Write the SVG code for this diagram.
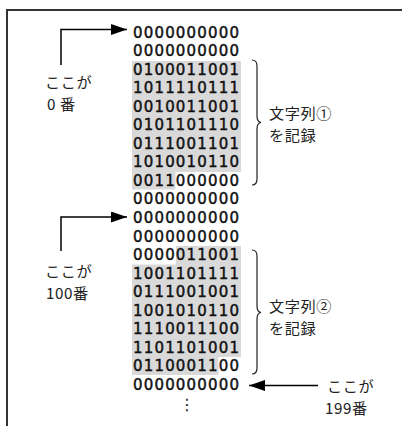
<svg xmlns="http://www.w3.org/2000/svg" width="402" height="426" viewBox="0 0 402 426">
<defs>
<marker id="ah" markerWidth="16" markerHeight="11" refX="16" refY="5.5" orient="auto" markerUnits="userSpaceOnUse">
<path d="M0,0 L16,5.5 L0,11 Z" fill="#000"/>
</marker>
<style>
.bin{font-family:"DejaVu Sans",sans-serif;font-size:15px;fill:#111;stroke:#111;stroke-width:0.45px}
.lbl{font-family:"Noto Sans CJK JP","Noto Sans",sans-serif;font-size:15.2px;fill:#222;letter-spacing:0.6px}
.shade{fill:#d9d9d9}
.conn{fill:none;stroke:#000;stroke-width:1.5}
.brace{fill:none;stroke:#222;stroke-width:1.2}
</style>
</defs>
<rect width="402" height="426" fill="#fff"/>
<path d="M7,426 V10 H402" fill="none" stroke="#333" stroke-width="2"/>
<g id="memory1">
<polygon class="shade" points="132,61 241,61 241,172 175.5,172 175.5,189.5 132,189.5"/>
</g>
<g id="memory2">
<polygon class="shade" points="176,246 241,246 241,357 218.5,357 218.5,375 132,375 132,264.5 176,264.5"/>
</g>
<g id="rows">
<text class="bin" x="133" y="37.5" textLength="106">0000000000</text>
<text class="bin" x="133" y="56.05" textLength="106">0000000000</text>
<text class="bin" x="133" y="74.6" textLength="106">0100011001</text>
<text class="bin" x="133" y="93.15" textLength="106">1011110111</text>
<text class="bin" x="133" y="111.7" textLength="106">0010011001</text>
<text class="bin" x="133" y="130.25" textLength="106">0101101110</text>
<text class="bin" x="133" y="148.8" textLength="106">0111001101</text>
<text class="bin" x="133" y="167.35" textLength="106">1010010110</text>
<text class="bin" x="133" y="185.9" textLength="106">0011000000</text>
<text class="bin" x="133" y="204.45" textLength="106">0000000000</text>
<text class="bin" x="133" y="223" textLength="106">0000000000</text>
<text class="bin" x="133" y="241.55" textLength="106">0000000000</text>
<text class="bin" x="133" y="260.1" textLength="106">0000011001</text>
<text class="bin" x="133" y="278.65" textLength="106">1001101111</text>
<text class="bin" x="133" y="297.2" textLength="106">0111001001</text>
<text class="bin" x="133" y="315.75" textLength="106">1001010110</text>
<text class="bin" x="133" y="334.3" textLength="106">1110011100</text>
<text class="bin" x="133" y="352.85" textLength="106">1101101001</text>
<text class="bin" x="133" y="371.4" textLength="106">0110001100</text>
<text class="bin" x="133" y="389.95" textLength="106">0000000000</text>
<text x="187" y="410" text-anchor="middle" style="font-family:'DejaVu Sans',sans-serif;font-size:16px;fill:#222">⋮</text>
</g>
<g id="label-0">
<text class="lbl"><tspan x="45" y="88">ここが</tspan><tspan x="47" y="110">0</tspan><tspan dx="4">番</tspan></text>
</g>
<g id="label-100">
<text class="lbl"><tspan x="45" y="277">ここが</tspan><tspan x="46" y="299">100番</tspan></text>
</g>
<g id="label-199">
<text class="lbl"><tspan x="327" y="392">ここが</tspan><tspan x="325" y="414">199番</tspan></text>
</g>
<g id="label-str1">
<text class="lbl"><tspan x="269" y="119">文字列①</tspan><tspan x="269" y="141">を記録</tspan></text>
</g>
<g id="label-str2">
<text class="lbl"><tspan x="269" y="312">文字列②</tspan><tspan x="269" y="334">を記録</tspan></text>
</g>
<g id="connectors">
<path class="conn" d="M61,65 V29.5 H127" marker-end="url(#ah)"/>
<path class="conn" d="M61,251 V217 H127" marker-end="url(#ah)"/>
<path class="conn" d="M318,385.5 H249" marker-end="url(#ah)"/>
<path class="brace" d="M252,60 Q257,60 257,66 V116 Q257,122 261,122.5 Q257,123 257,129 V179 Q257,185 252,185"/>
<path class="brace" d="M252,250 Q257,250 257,256 V306 Q257,312 261,312.5 Q257,313 257,319 V368 Q257,374 252,374"/>
</g>
</svg>
